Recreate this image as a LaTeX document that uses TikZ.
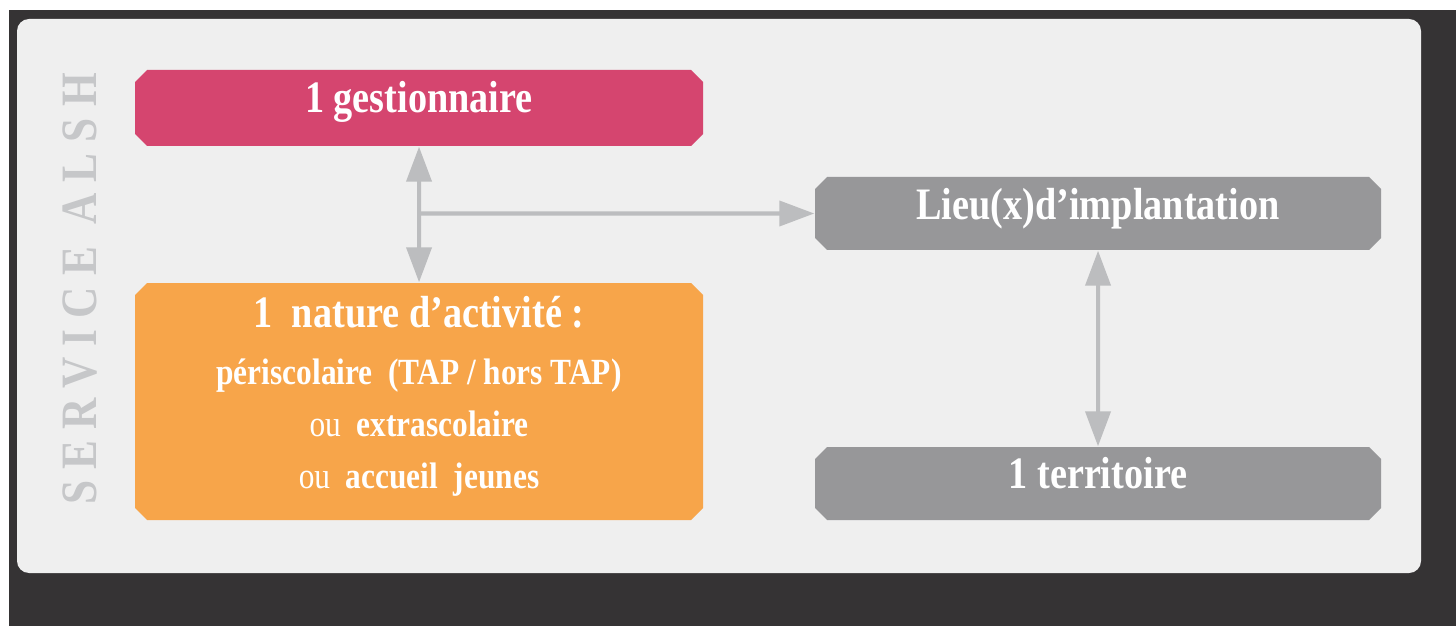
\documentclass[tikz,border=0pt]{standalone}
\usepackage{fontspec}
\setmainfont{Liberation Serif}[FakeStretch=0.85]
\newfontfamily\sidefont{Liberation Serif}[FakeStretch=0.85,LetterSpace=22]
\usetikzlibrary{shapes.misc,arrows.meta}

\definecolor{darkbg}{RGB}{53,51,52}
\definecolor{panelgray}{RGB}{239,239,239}
\definecolor{pinkbox}{RGB}{213,69,111}
\definecolor{orangebox}{RGB}{247,165,74}
\definecolor{graybox}{RGB}{151,151,153}
\definecolor{arrowgray}{RGB}{188,189,191}
\definecolor{sidegray}{RGB}{198,199,201}

\tikzset{
  box/.style={chamfered rectangle,chamfered rectangle xsep=.6mm,
    chamfered rectangle ysep=.6mm,inner sep=0pt,text=white,
    font=\bfseries\fontsize{12.8}{15}\selectfont,
    text height=8.4pt,text depth=5.8pt,
    minimum width=56.8mm,minimum height=7.6mm},
  link/.style={draw=arrowgray,line width=1.15pt,
    -{Triangle[length=3.5mm,width=2.5mm]}},
  twoway/.style={link,{Triangle[length=3.5mm,width=2.5mm]}-{Triangle[length=3.5mm,width=2.5mm]}}
}

\begin{document}
\begin{tikzpicture}[x=.1mm,y=-.1mm]
  \fill[white] (0,0) rectangle (1456,626);
  \fill[darkbg] (9,10) rectangle (1456,626);
  \fill[panelgray,rounded corners=1.2mm] (17,19) rectangle (1421,573);
  % side title
  \node[rotate=90,text=sidegray,font=\sidefont\bfseries\fontsize{14.5}{16}\selectfont]
    (side) at (80,289) {SERVICE\ ALSH};
  % boxes
  \node[box,fill=pinkbox] (gest) at (419,108) {1 gestionnaire};
  \node[box,fill=orangebox,minimum height=23.7mm,align=center,
    text height=,text depth=5pt,
    font=\bfseries\fontsize{10.5}{14.8}\selectfont] (nature) at (419,401.5)
    {{\fontsize{12.8}{15}\selectfont 1\ \ nature d’activité :}\\[.5mm]
     périscolaire\ \ (TAP / hors TAP)\\
     {\mdseries ou}\ \ extrascolaire\\
     {\mdseries ou}\ \ accueil\ \ jeunes};
  \node[box,fill=graybox,minimum width=56.6mm,minimum height=7.3mm,
    text depth=5pt] (lieu) at (1098,213.5) {Lieu(x)d’implantation};
  \node[box,fill=graybox,minimum width=56.6mm,minimum height=7.3mm]
    (terr) at (1098,483.5) {1 territoire};
  % links
  \coordinate (split) at (gest.south |- lieu.west);
  \draw[twoway] (gest) -- (nature);
  \draw[link] (split) -- (lieu);
  \draw[twoway] (lieu) -- (terr);
\end{tikzpicture}
\end{document}
